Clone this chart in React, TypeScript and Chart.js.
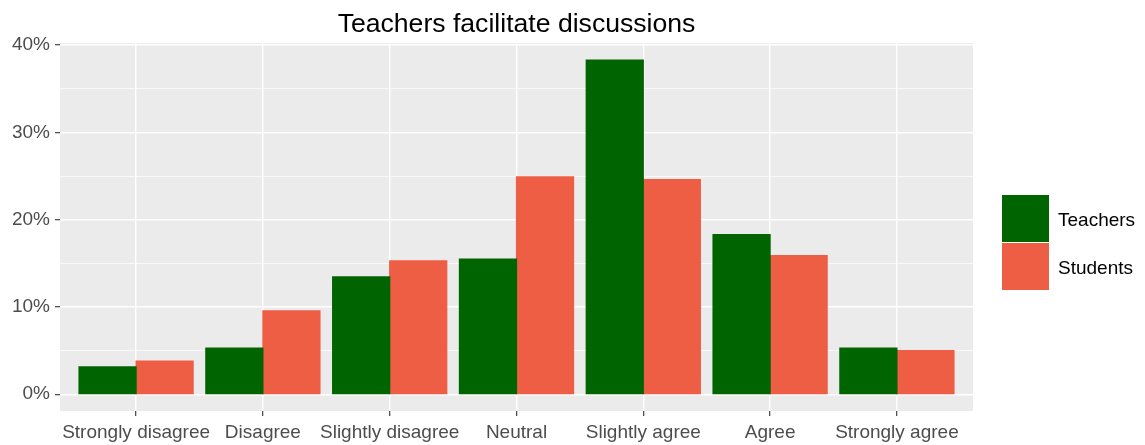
import React, { useEffect, useRef } from "react";
import { Chart, registerables } from "chart.js";

Chart.register(...registerables);

const chartTitle = "Teachers facilitate discussions";
const categories = [
  "Strongly disagree",
  "Disagree",
  "Slightly disagree",
  "Neutral",
  "Slightly agree",
  "Agree",
  "Strongly agree",
];
const teachers = [3.13, 5.3, 13.45, 15.5, 38.3, 18.3, 5.3];
const students = [3.8, 9.55, 15.3, 24.9, 24.6, 15.9, 5.0];
const seriesNames = ["Teachers", "Students"];
const seriesColors = ["#006400", "#EE5E44"];
const yMajorTicks = [0, 10, 20, 30, 40];
const yMinorTicks = [5, 15, 25, 35];

const FONT = "'Liberation Sans', Arial, sans-serif";

const panelPlugin = {
  id: "ggPanel",
  beforeDraw(chart: any) {
    const { ctx, chartArea } = chart;
    ctx.save();
    ctx.fillStyle = "#EBEBEB";
    ctx.fillRect(chartArea.left, chartArea.top, chartArea.right - chartArea.left, chartArea.bottom - chartArea.top);
    ctx.restore();
  },
  afterDraw(chart: any) {
    const { ctx, chartArea } = chart;
    ctx.save();
    // title
    ctx.font = `26.6px ${FONT}`;
    ctx.fillStyle = "#000000";
    ctx.textAlign = "center";
    ctx.textBaseline = "alphabetic";
    ctx.fillText(chartTitle, (chartArea.left + chartArea.right) / 2, 31.8);
    // legend
    const kx = chartArea.right + 29;
    const ky = 195;
    chart.data.datasets.forEach((ds: any, i: number) => {
      ctx.fillStyle = ds.backgroundColor;
      ctx.fillRect(kx, ky + i * 48, 47, 47);
      ctx.fillStyle = "#000000";
      ctx.font = `19px ${FONT}`;
      ctx.textAlign = "left";
      ctx.textBaseline = "middle";
      ctx.fillText(ds.label, kx + 56, ky + i * 48 + 25.5);
    });
    ctx.restore();
  },
};

export default function App() {
  const ref = useRef<HTMLCanvasElement | null>(null);
  useEffect(() => {
    if (!ref.current) return;
    const seriesValues = [teachers, students];
    const allY = [...yMajorTicks, ...yMinorTicks].sort((a, b) => a - b);
    const chart = new Chart(ref.current, {
      type: "bar",
      data: {
        datasets: seriesNames.map((name, s) => ({
          label: name,
          data: categories.map((_, i) => ({ x: i + 1, y: seriesValues[s][i] })),
          backgroundColor: seriesColors[s],
          borderWidth: 0,
          inflateAmount: 0.6,
          categoryPercentage: 0.9,
          barPercentage: 1.0,
        })),
      },
      options: {
        responsive: false,
        animation: false,
        layout: { padding: { top: 43, right: 172, left: 0, bottom: 0 } },
        plugins: {
          legend: { display: false },
          title: { display: false },
          tooltip: { enabled: false },
        },
        scales: {
          x: {
            type: "linear",
            min: 0.4,
            max: categories.length + 0.6,
            offset: false,
            border: { display: false },
            afterBuildTicks: (scale: any) => {
              scale.ticks = categories.map((_, i) => ({ value: i + 1 }));
            },
            afterFit: (scale: any) => {
              scale.height = 34;
            },
            grid: {
              offset: false,
              color: "#FFFFFF",
              lineWidth: 1.4,
              drawTicks: true,
              tickLength: 5,
              tickColor: "#333333",
              tickWidth: 1.1,
            },
            ticks: {
              autoSkip: false,
              maxRotation: 0,
              minRotation: 0,
              padding: 5,
              color: "#4D4D4D",
              font: { family: FONT, size: 19 },
              callback: (v: any) => categories[Math.round(Number(v)) - 1] ?? "",
            },
          },
          y: {
            type: "linear",
            min: -1.92,
            max: 40.25,
            border: { display: false },
            afterBuildTicks: (scale: any) => {
              scale.ticks = allY.map((v) => ({ value: v }));
            },
            afterFit: (scale: any) => {
              scale.width = 60;
            },
            grid: {
              color: "#FFFFFF",
              lineWidth: (c: any) => (yMajorTicks.includes(c.tick?.value) ? 1.4 : 0.7),
              drawTicks: true,
              tickLength: 5,
              tickColor: (c: any) => (yMajorTicks.includes(c.tick?.value) ? "#333333" : "rgba(0,0,0,0)"),
              tickWidth: 1.1,
            },
            ticks: {
              padding: 5,
              color: "#4D4D4D",
              font: { family: FONT, size: 19 },
              callback: (v: any) => (yMajorTicks.includes(Number(v)) ? `${v}%` : ""),
            },
          },
        },
      },
      plugins: [panelPlugin],
    });
    return () => chart.destroy();
  }, []);
  return (
    <div style={{ position: "fixed", left: 0, top: 0, width: 1145, height: 445, background: "#FFFFFF" }}>
      <canvas ref={ref} width={1145} height={445} />
    </div>
  );
}
